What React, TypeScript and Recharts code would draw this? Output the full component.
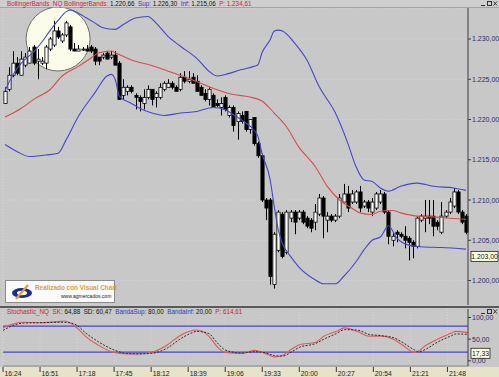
import {
  ComposedChart,
  Bar,
  Line,
  XAxis,
  YAxis,
  CartesianGrid,
  ReferenceDot,
  ReferenceLine,
} from "recharts";

// 3-minute NQ bars, first bar 16:24
const open = [
  1222.0, 1223.75, 1225.5, 1227.0, 1225.5, 1226.75, 1227.0, 1229.0, 1227.25, 1227.0,
  1227.0, 1228.75, 1229.25, 1231.0, 1229.75, 1230.5, 1231.5, 1228.75, 1228.5, 1228.75,
  1228.75, 1229.0, 1228.75, 1227.75, 1227.75, 1228.25, 1227.75, 1228.0, 1227.0, 1223.0,
  1223.5, 1224.0, 1223.0, 1222.75, 1222.0, 1222.75, 1223.75, 1222.75, 1222.75, 1223.75,
  1224.0, 1224.5, 1224.0, 1223.75, 1225.25, 1224.75, 1225.25, 1224.75, 1224.0, 1223.25,
  1222.5, 1223.0, 1222.0, 1221.5, 1222.75, 1220.5, 1221.5, 1219.75, 1220.5, 1221.0,
  1218.75, 1220.25, 1217.0, 1215.5, 1210.0, 1210.0, 1199.5, 1203.75, 1208.25, 1203.5,
  1207.75, 1208.5, 1207.75, 1208.5, 1207.75, 1207.5, 1207.25, 1208.25, 1210.25, 1207.5,
  1208.0, 1207.5, 1208.0, 1209.75, 1210.75, 1209.75, 1209.75, 1211.0, 1209.25, 1209.75,
  1208.5, 1209.0, 1209.75, 1210.75, 1208.5, 1205.0, 1206.0, 1205.75, 1205.5, 1205.25,
  1204.75, 1204.25, 1207.5, 1207.75, 1208.0, 1208.0, 1207.25, 1206.0, 1208.0, 1208.5,
  1209.25, 1211.0, 1208.5, 1208.0,
];
const high = [
  1224.0, 1226.5, 1228.5, 1227.75, 1228.5, 1228.25, 1229.0, 1229.25, 1228.75, 1227.75,
  1229.25, 1230.25, 1232.25, 1231.5, 1230.75, 1232.25, 1231.75, 1229.5, 1229.25, 1229.0,
  1229.25, 1229.25, 1229.0, 1227.75, 1228.25, 1228.5, 1228.5, 1228.5, 1227.25, 1225.0,
  1224.25, 1224.25, 1223.25, 1223.0, 1223.75, 1224.25, 1223.75, 1223.5, 1224.5, 1224.75,
  1225.0, 1224.75, 1224.25, 1225.75, 1226.0, 1226.0, 1225.75, 1225.5, 1224.25, 1223.75,
  1224.0, 1223.25, 1222.5, 1222.75, 1223.0, 1221.75, 1221.75, 1221.0, 1221.0, 1221.0,
  1220.0, 1220.25, 1217.25, 1215.75, 1210.25, 1210.25, 1206.0, 1208.75, 1208.5, 1208.75,
  1208.75, 1208.75, 1208.75, 1208.75, 1208.0, 1207.75, 1209.5, 1210.75, 1210.5, 1208.5,
  1208.25, 1208.25, 1210.75, 1212.0, 1211.75, 1211.25, 1211.25, 1211.75, 1210.0, 1210.0,
  1210.25, 1211.0, 1211.25, 1211.0, 1208.75, 1206.0, 1206.25, 1206.0, 1206.75, 1205.5,
  1205.0, 1208.0, 1208.25, 1210.0, 1210.0, 1210.0, 1207.5, 1209.75, 1208.75, 1210.25,
  1211.5, 1211.25, 1208.75, 1208.25,
];
const low = [
  1222.0, 1223.5, 1225.25, 1225.5, 1225.5, 1226.5, 1227.0, 1226.75, 1225.0, 1226.75,
  1226.25, 1228.5, 1229.0, 1230.0, 1229.5, 1230.25, 1228.5, 1228.5, 1228.5, 1228.5,
  1228.5, 1228.25, 1226.75, 1226.75, 1227.5, 1227.5, 1227.5, 1226.75, 1222.5, 1222.5,
  1223.0, 1223.25, 1221.25, 1221.0, 1221.25, 1222.5, 1221.75, 1221.5, 1222.5, 1223.5,
  1224.0, 1223.75, 1223.5, 1223.5, 1224.5, 1224.5, 1224.5, 1223.5, 1223.0, 1222.25,
  1221.75, 1221.5, 1221.5, 1220.5, 1221.0, 1220.25, 1218.5, 1217.5, 1219.5, 1218.5,
  1218.25, 1216.75, 1215.25, 1209.75, 1207.5, 1199.5, 1199.0, 1203.5, 1202.75, 1203.25,
  1207.25, 1205.75, 1207.5, 1207.0, 1206.5, 1206.0, 1206.25, 1208.0, 1205.25, 1206.0,
  1207.25, 1207.25, 1207.75, 1209.75, 1208.5, 1209.5, 1209.5, 1208.5, 1209.0, 1208.5,
  1208.0, 1208.75, 1209.5, 1208.25, 1204.5, 1204.25, 1204.75, 1205.25, 1204.0, 1202.5,
  1202.75, 1204.0, 1207.25, 1206.0, 1207.0, 1205.5, 1206.25, 1205.75, 1207.75, 1208.25,
  1209.0, 1208.25, 1207.0, 1205.75,
];
const close = [
  1223.5, 1225.5, 1227.0, 1225.75, 1227.5, 1227.75, 1228.5, 1227.0, 1227.5, 1227.25,
  1229.0, 1230.0, 1231.0, 1230.25, 1230.5, 1232.0, 1228.75, 1228.5, 1228.75, 1228.75,
  1228.5, 1228.5, 1227.25, 1227.25, 1228.0, 1227.5, 1228.0, 1226.75, 1222.5, 1224.0,
  1224.0, 1223.5, 1222.75, 1222.25, 1222.75, 1223.75, 1222.5, 1223.25, 1224.0, 1224.5,
  1224.5, 1224.0, 1223.5, 1225.25, 1224.75, 1225.0, 1224.5, 1223.5, 1223.0, 1222.5,
  1223.75, 1221.5, 1221.75, 1222.0, 1221.25, 1221.5, 1219.25, 1220.75, 1219.75, 1218.75,
  1220.0, 1217.0, 1215.5, 1210.0, 1209.0, 1200.5, 1205.75, 1208.5, 1203.0, 1208.5,
  1208.5, 1207.25, 1208.5, 1207.25, 1206.75, 1206.5, 1208.5, 1210.25, 1208.0, 1208.0,
  1207.5, 1208.0, 1210.25, 1210.75, 1209.0, 1210.75, 1211.0, 1209.0, 1209.75, 1209.0,
  1209.75, 1210.75, 1210.75, 1208.5, 1205.5, 1205.5, 1205.75, 1205.5, 1205.0, 1204.75,
  1204.25, 1207.75, 1208.0, 1208.0, 1207.75, 1206.75, 1206.75, 1208.0, 1208.5, 1209.75,
  1211.0, 1208.5, 1207.25, 1206.0,
];

// bollinger bands, read at [bar index, value]
const upperBand: [number, number][] = [
  [0, 1223.6], [2, 1225.6], [4, 1227.0], [7, 1228.4], [9, 1229.6], [11, 1231.0], [13, 1232.3],
  [15, 1233.4], [16, 1233.6], [18, 1233.2], [20, 1232.6], [22, 1232.0], [24, 1231.4], [27, 1231.2],
  [29, 1231.8], [32, 1232.6], [35, 1232.8], [37, 1232.0], [40, 1230.3], [43, 1229.1], [47, 1227.6],
  [50, 1226.0], [52, 1225.4], [54, 1225.6], [58, 1226.2], [61, 1226.6], [62, 1226.8], [63, 1228.3],
  [65, 1229.9], [66, 1231.0], [67, 1231.1], [68, 1231.0], [71, 1229.5], [74, 1227.4], [77, 1224.1],
  [81, 1220.8], [84, 1217.1], [86, 1214.2], [88, 1212.5], [90, 1212.3], [92, 1211.5], [94, 1211.1],
  [97, 1211.7], [101, 1212.1], [105, 1211.7], [110, 1211.5], [113, 1211.2],
];
const middleBand: [number, number][] = [
  [0, 1220.3], [4, 1221.4], [7, 1222.5], [11, 1223.7], [14, 1225.4], [18, 1226.6], [21, 1227.6],
  [23, 1228.3], [26, 1228.5], [27, 1228.3], [31, 1227.4], [36, 1226.7], [40, 1226.0], [44, 1225.3],
  [48, 1224.5], [52, 1223.7], [56, 1223.1], [60, 1222.8], [63, 1222.3], [66, 1220.8], [69, 1219.1],
  [72, 1216.6], [76, 1214.2], [79, 1211.7], [82, 1210.0], [85, 1209.0], [87, 1208.4], [90, 1208.2],
  [92, 1208.6], [95, 1208.7], [97, 1208.4], [101, 1208.0], [105, 1207.9], [110, 1207.7], [113, 1207.6],
];
const lowerBand: [number, number][] = [
  [0, 1216.9], [3, 1216.0], [6, 1215.4], [10, 1215.6], [13, 1215.8], [15, 1217.5], [18, 1220.4],
  [22, 1223.3], [25, 1225.4], [26, 1225.6], [27, 1225.0], [28, 1222.9], [31, 1222.0], [33, 1221.4],
  [36, 1220.8], [39, 1220.5], [43, 1220.8], [47, 1221.0], [51, 1221.5], [54, 1221.2], [56, 1220.6],
  [59, 1219.6], [61, 1218.7], [62, 1217.9], [63, 1215.8], [65, 1212.5], [66, 1209.2], [67, 1206.3],
  [68, 1204.6], [70, 1203.0], [72, 1201.7], [76, 1200.1], [78, 1199.6], [81, 1199.6], [83, 1200.5],
  [86, 1202.3], [88, 1203.8], [90, 1205.0], [92, 1205.4], [94, 1206.8], [96, 1205.3], [99, 1204.4],
  [102, 1204.2], [107, 1204.1], [113, 1203.9],
];

// stochastic %K and %D
const stochK: [number, number][] = [
  [0, 76], [2, 84], [5, 89], [9, 88], [14, 91], [15, 92], [18, 76], [20, 57], [23, 37], [27, 19],
  [30, 16], [33, 16], [36, 19], [40, 37], [43, 58], [46, 70], [47, 71], [50, 57], [52, 33], [54, 19],
  [58, 17], [61, 24], [64, 16], [66, 9], [68, 13], [70, 26], [72, 37], [76, 43], [78, 57], [81, 68],
  [83, 76], [86, 68], [89, 57], [92, 57], [95, 49], [97, 37], [100, 19], [103, 37], [105, 47],
  [109, 64], [110, 68], [113, 65],
];
const stochD: [number, number][] = [
  [0, 70], [2, 80], [5, 87], [9, 88], [14, 89], [16, 88], [18, 82], [20, 65], [23, 45], [27, 25],
  [30, 17], [33, 16], [36, 17], [40, 30], [43, 50], [46, 65], [47, 68], [50, 63], [52, 42], [54, 25],
  [58, 18], [61, 21], [64, 18], [66, 12], [68, 11], [70, 20], [72, 31], [76, 40], [78, 50], [81, 63],
  [83, 72], [86, 71], [89, 61], [92, 58], [95, 53], [97, 43], [100, 25], [101, 21], [103, 28],
  [105, 40], [109, 58], [110, 62], [113, 61],
];

const tickLabels = [
  "16:24", "16:51", "17:18", "17:45", "18:12", "18:39", "19:06",
  "19:33", "20:00", "20:27", "20:54", "21:21", "21:48",
];
const priceTicks = [1200, 1205, 1210, 1215, 1220, 1225, 1230];
const stochTicks = [0, 50, 100];

const times = open.map((_, i) => {
  const m = 16 * 60 + 24 + i * 3;
  return `${Math.floor(m / 60)}:${String(m % 60).padStart(2, "0")}`;
});

const pick = (pts: [number, number][]) => {
  const m = new Map(pts);
  return (i: number) => (m.has(i) ? m.get(i)! : null);
};
const up = pick(upperBand);
const mid = pick(middleBand);
const lo = pick(lowerBand);
const kAt = pick(stochK);
const dAt = pick(stochD);

const priceRows = open.map((o, i) => ({
  time: times[i],
  open: o,
  high: high[i],
  low: low[i],
  close: close[i],
  range: [low[i], high[i]],
  upper: up(i),
  middle: mid(i),
  lower: lo(i),
}));

const stochRows = times.map((t, i) => ({ time: t, k: kAt(i), d: dAt(i) }));

const fmtNum = (v: number) => {
  const [a, b] = v.toFixed(2).split(".");
  return a.replace(/\B(?=(\d{3})+(?!\d))/g, ".") + "," + b;
};

const FONT = "'Liberation Sans', Arial, sans-serif";
const BG = "#c8c8c8";
const AXIS_TEXT = "#2b2b6e";

function Candle(props: any) {
  const { x, y, width, height, payload } = props;
  const top = Math.min(y, y + height);
  const h = Math.abs(height);
  const span = payload.high - payload.low;
  const toY = (p: number) => (span === 0 ? top : top + ((payload.high - p) / span) * h);
  const cx = Math.round(x + width / 2) + 0.5;
  const yo = toY(payload.open);
  const yc = toY(payload.close);
  const bodyTop = Math.min(yo, yc);
  const bodyH = Math.max(Math.abs(yo - yc), 1);
  const white = payload.close >= payload.open;
  return (
    <g>
      <line x1={cx} x2={cx} y1={top} y2={top + Math.max(h, 1)} stroke="#000" strokeWidth={1} />
      <rect
        x={cx - 1.6}
        y={bodyTop}
        width={3.2}
        height={bodyH}
        fill={white ? "#ffffff" : "#000000"}
        stroke="#000"
        strokeWidth={0.8}
      />
    </g>
  );
}

function PriceTag(props: any) {
  const { viewBox, text, w } = props;
  if (!viewBox) return null;
  const x = viewBox.x + viewBox.width + 3;
  const y = viewBox.y;
  return (
    <g>
      <rect x={x} y={y - 5} width={w} height={10} fill="#ffffe1" stroke="#202020" strokeWidth={0.8} />
      <text x={x + w / 2} y={y + 2.6} textAnchor="middle" fontSize={6.8} fill="#111" fontFamily={FONT}>
        {text}
      </text>
    </g>
  );
}

function TimeTick(props: any) {
  const { x, y, payload } = props;
  return (
    <g>
      <line x1={x} x2={x} y1={y + 1} y2={y + 6} stroke="#333" strokeWidth={1} />
      <text x={x + 1.5} y={y + 9.5} fontSize={6.8} fill="#222" fontFamily={FONT}>
        {payload.value}
      </text>
    </g>
  );
}

function WinIcons({ top }: { top: number }) {
  return (
    <svg
      width={18}
      height={7}
      style={{ position: "absolute", left: 480, top }}
    >
      <line x1={1} x2={5} y1={5.5} y2={5.5} stroke="#333" />
      <rect x={7.5} y={1.5} width={4} height={4} fill="none" stroke="#333" />
      <line x1={13.5} x2={17} y1={1.5} y2={5.5} stroke="#333" />
      <line x1={17} x2={13.5} y1={1.5} y2={5.5} stroke="#333" />
    </svg>
  );
}

export default function App() {
  const txt = { fontSize: 6.3, whiteSpace: "pre" as const, lineHeight: "7px" };
  return (
    <div
      style={{
        position: "absolute",
        left: 0,
        top: 0,
        width: 499,
        height: 377,
        background: BG,
        fontFamily: FONT,
        overflow: "hidden",
      }}
    >
      {/* price panel */}
      <div style={{ position: "absolute", left: 0, top: 8 }}>
        <ComposedChart
          width={499}
          height={298}
          data={priceRows}
          margin={{ top: 0, right: 0, bottom: 0, left: 3 }}
          barCategoryGap={0}
        >
          <CartesianGrid stroke="#d6d6d6" strokeDasharray="1 2" />
          <XAxis dataKey="time" ticks={tickLabels} height={1} tick={false} tickLine={false} axisLine={false} />
          <YAxis
            orientation="right"
            width={31}
            domain={[1196.96, 1233.85]}
            allowDataOverflow
            ticks={priceTicks}
            tickFormatter={fmtNum}
            tick={{ fontSize: 7, fill: AXIS_TEXT }}
            tickSize={3}
            tickMargin={1}
            axisLine={{ stroke: "#3a3a3a" }}
            tickLine={{ stroke: "#3a3a3a" }}
          />
          <ReferenceDot
            x={times[13]}
            y={1230}
            r={32}
            fill="#fbfbea"
            stroke="#6e6e6e"
            strokeWidth={1}
            zIndex={50}
          />
          <Bar dataKey="range" shape={Candle} isAnimationActive={false} />
          <Line type="monotone" dataKey="upper" stroke="#4747c6" strokeWidth={1.1} dot={false} connectNulls isAnimationActive={false} />
          <Line type="monotone" dataKey="middle" stroke="#d94c4c" strokeWidth={1.1} dot={false} connectNulls isAnimationActive={false} />
          <Line type="monotone" dataKey="lower" stroke="#4747c6" strokeWidth={1.1} dot={false} connectNulls isAnimationActive={false} />
          <ReferenceLine y={1203} strokeOpacity={0} label={<PriceTag text="1.203,00" w={27} />} />
        </ComposedChart>
      </div>

      {/* stochastic panel */}
      <div style={{ position: "absolute", left: 0, top: 306 }}>
        <div style={{ position: "absolute", left: 0, top: 61, width: 499, height: 10, background: "#e7e3c8" }} />
        <ComposedChart
          width={499}
          height={71}
          data={stochRows}
          margin={{ top: 3, right: 0, bottom: 0, left: 3 }}
        >
          <CartesianGrid stroke="#d6d6d6" strokeDasharray="1 2" horizontal={false} />
          <XAxis
            dataKey="time"
            ticks={tickLabels}
            interval={0}
            height={11}
            tick={<TimeTick />}
            tickLine={false}
            tickSize={0}
            tickMargin={0}
            axisLine={{ stroke: "#8a8a8a" }}
          />
          <YAxis
            orientation="right"
            width={31}
            domain={[-12, 119.6]}
            allowDataOverflow
            ticks={stochTicks}
            tickFormatter={fmtNum}
            tick={{ fontSize: 7, fill: AXIS_TEXT }}
            tickSize={3}
            tickMargin={1}
            axisLine={{ stroke: "#3a3a3a" }}
            tickLine={{ stroke: "#3a3a3a" }}
          />
          <ReferenceLine y={80} stroke="#4545d6" strokeWidth={1.4} />
          <ReferenceLine y={20} stroke="#4545d6" strokeWidth={1.4} />
          <Line type="monotone" dataKey="k" stroke="#e05a5a" strokeWidth={1.1} dot={false} connectNulls isAnimationActive={false} />
          <Line type="monotone" dataKey="d" stroke="#2a2a2a" strokeWidth={1} strokeDasharray="2 1.5" dot={false} connectNulls isAnimationActive={false} />
          <ReferenceLine y={17.33} strokeOpacity={0} label={<PriceTag text="17,33" w={19} />} />
        </ComposedChart>
      </div>

      {/* header of price panel */}
      <div
        style={{
          position: "absolute",
          left: 0,
          top: 0,
          width: 499,
          height: 7,
          background: "#cfcfcf",
          borderBottom: "1px solid #a4a4a4",
        }}
      >
        <div style={{ ...txt, position: "absolute", left: 7, top: 0 }}>
          <span style={{ color: "#c62a2a" }}>BollingerBands_NQ BollingerBands: </span>
          <span style={{ color: "#111" }}>1.220,66 </span>
          <span style={{ color: "#3434c0" }}> Sup: </span>
          <span style={{ color: "#111" }}>1.226,30 </span>
          <span style={{ color: "#3434c0" }}> Inf: </span>
          <span style={{ color: "#111" }}>1.215,06 </span>
          <span style={{ color: "#c62a2a" }}> P: 1.234,61</span>
        </div>
      </div>
      <WinIcons top={0} />

      {/* panel separator */}
      <div style={{ position: "absolute", left: 0, top: 306, width: 499, height: 2, background: "#5a5a5a" }} />
      <div style={{ ...txt, position: "absolute", left: 7, top: 308 }}>
        <span style={{ color: "#c62a2a" }}>Stochastic_NQ  SK: </span>
        <span style={{ color: "#111" }}>64,88 </span>
        <span style={{ color: "#111" }}> SD: 60,47 </span>
        <span style={{ color: "#3434c0" }}> BandaSup: </span>
        <span style={{ color: "#111" }}>80,00 </span>
        <span style={{ color: "#3434c0" }}> BandaInf: </span>
        <span style={{ color: "#111" }}>20,00 </span>
        <span style={{ color: "#c62a2a" }}> P: 614,61</span>
      </div>
      <WinIcons top={308} />

      {/* logo */}
      <div
        style={{
          position: "absolute",
          left: 5,
          top: 280,
          width: 108,
          height: 21,
          background: "#fafafa",
          border: "1px solid #8c8c8c",
        }}
      >
        <svg width={26} height={18} style={{ position: "absolute", left: 4, top: 2 }}>
          <ellipse cx={12} cy={10} rx={10} ry={5} fill="#1d2c8c" />
          <ellipse cx={12} cy={10} rx={5} ry={2.2} fill="#fafafa" />
          <path d="M6 16 L18 2" stroke="#e0a030" strokeWidth={2.2} />
        </svg>
        <div style={{ position: "absolute", left: 29, top: 3, fontSize: 6.4, fontWeight: "bold", color: "#d9a03c", whiteSpace: "nowrap" }}>
          Realizado con Visual Chart
        </div>
        <div style={{ position: "absolute", left: 55, top: 12, fontSize: 5, color: "#222", whiteSpace: "nowrap" }}>
          www.agmercados.com
        </div>
      </div>
    </div>
  );
}
